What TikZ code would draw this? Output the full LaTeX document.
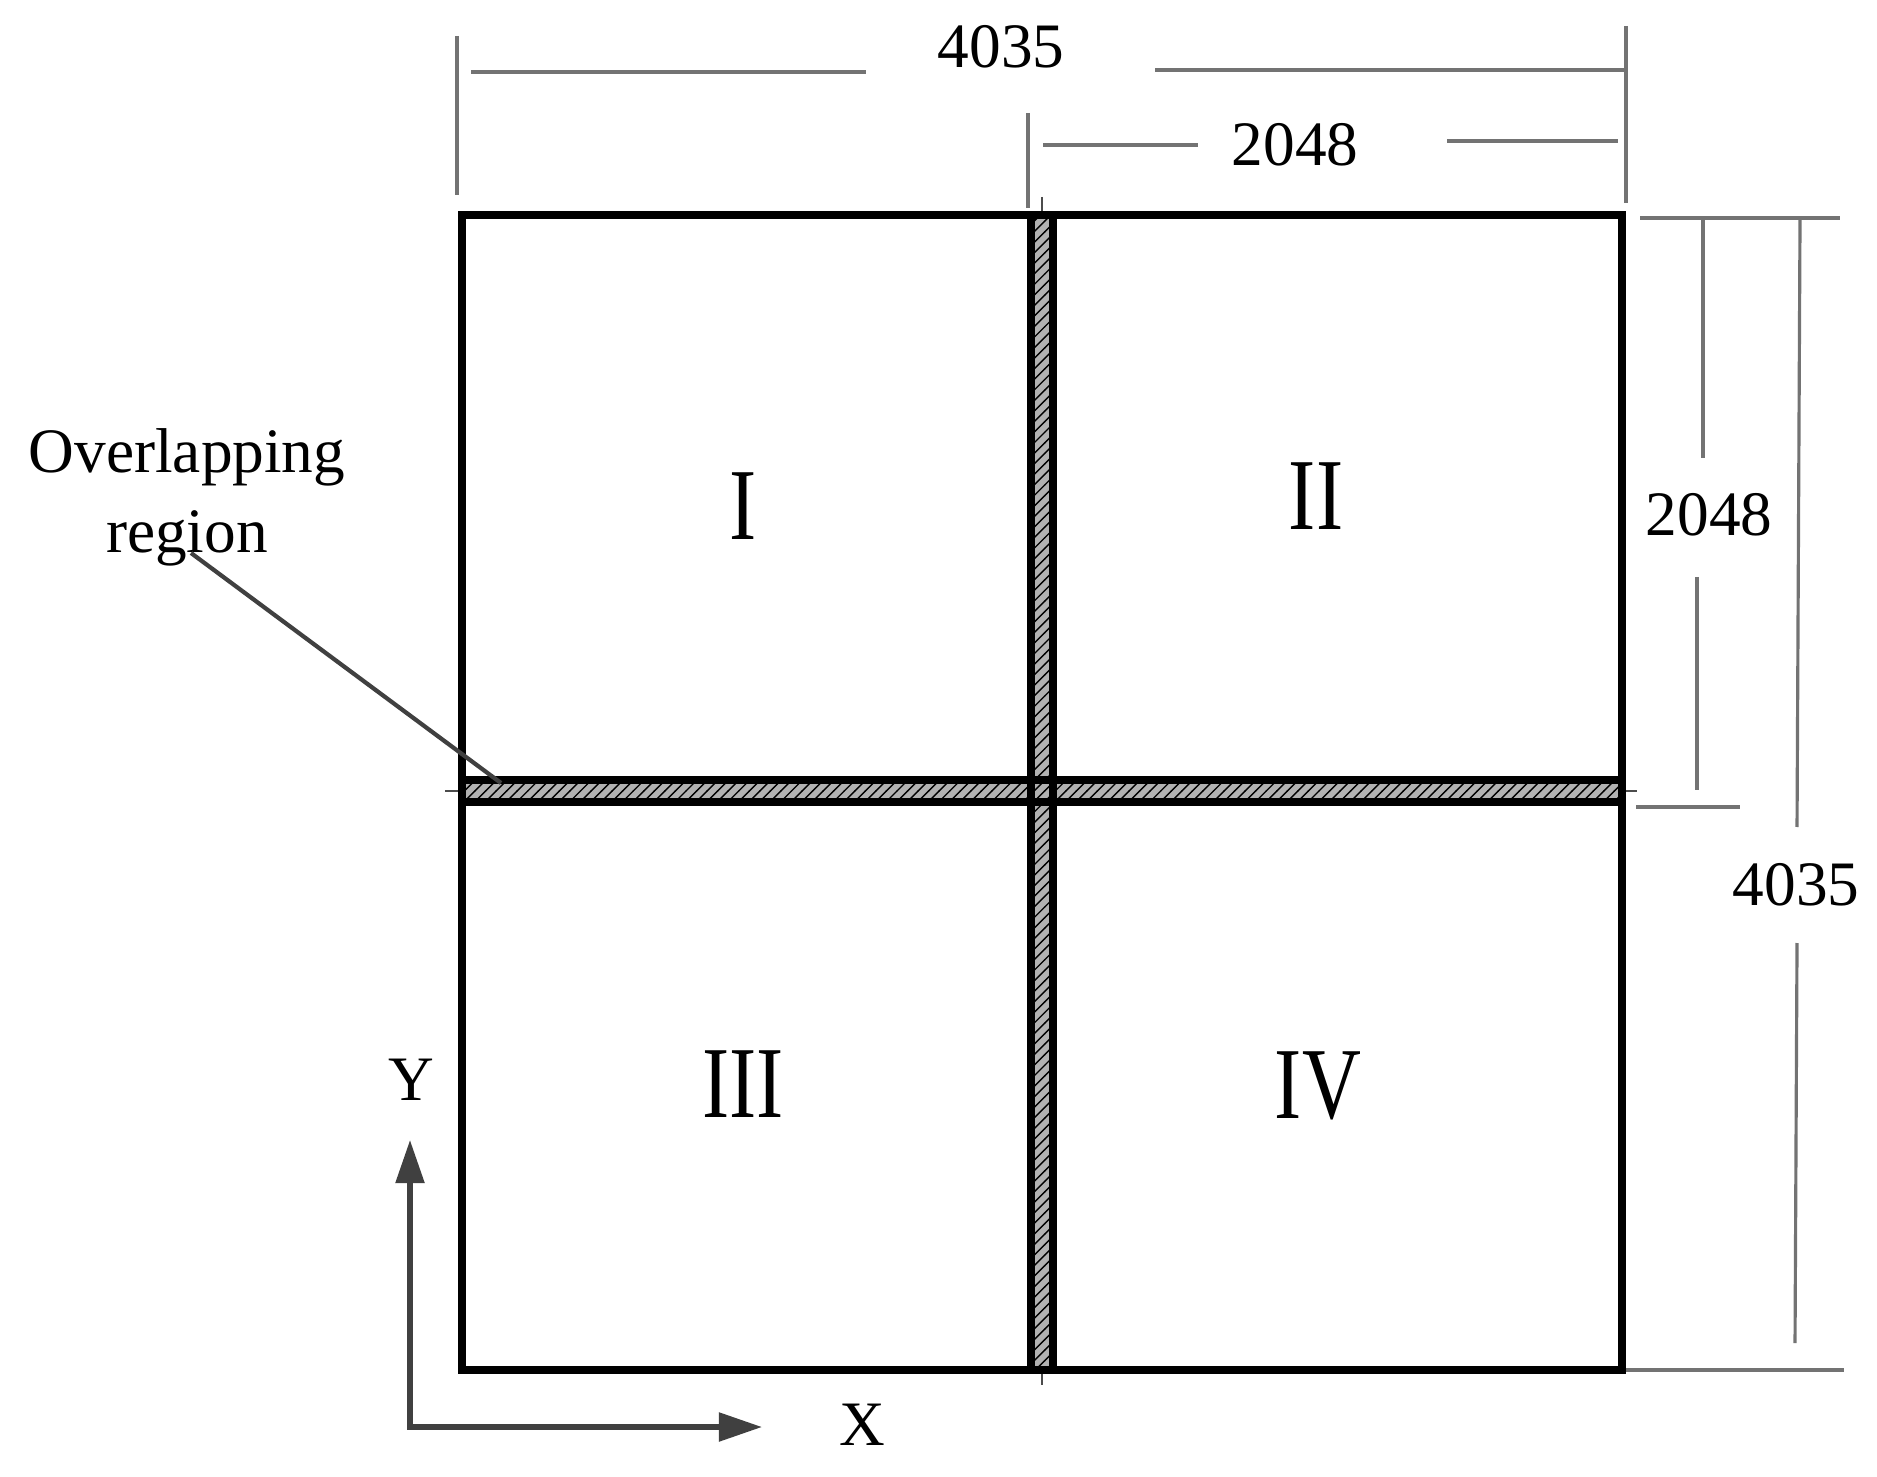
\documentclass[tikz,border=0pt]{standalone}
\usepackage{fontspec}
\setmainfont{Liberation Serif}
\usetikzlibrary{arrows.meta,patterns}
\tikzset{
    dimline/.style={draw=black!55, line width=0.9pt},
    axisline/.style={draw=black!75, line width=1.5pt, {Triangle[length=4.3mm,width=2.8mm]}-{Triangle[length=4.3mm,width=2.8mm]}},
    lbl/.style={inner sep=0pt, font=\fontsize{18}{22.8}\selectfont},
    quad/.style={inner sep=0pt, font=\fontsize{29}{30}\selectfont, xscale=0.8, transform shape},
    stripfill/.style={preaction={fill=black!30}, pattern=north east lines, pattern color=black},
}
\begin{document}
\begin{tikzpicture}[x=0.01cm, y=-0.01cm]
    \useasboundingbox (0,0) rectangle (1877,1477);
    % centre lines of the overlapping strips
    \draw[black!70, line width=0.6pt] (1042,197) -- (1042,1385);
    \draw[black!70, line width=0.6pt] (445,791) -- (1637,791);
    \foreach \a/\b in {{462,780}/{1622,802}, {1031,215}/{1053,1370}}
        \fill[stripfill] (\a) rectangle (\b);
    \foreach \a/\b in {{462,780}/{1622,802}, {1031,215}/{1053,1370}}
        \draw[line width=2.2pt] (\a) rectangle (\b);
    \draw[line width=2.4pt] (462,215) rectangle (1622,1370);
    \foreach \t/\x/\y [count=\i] in {I/743/506, II/1316/496, III/743/1084, IV/1318/1086}
        \node[quad] (q\i) at (\x,\y) {\t};
    % dimensions on top
    \node[lbl] (wtot) at (1001,47) {4035};
    \draw[dimline] (457,36) -- (457,195);
    \draw[dimline] (1626,26) -- (1626,203);
    \draw[dimline] (471,72) -- (866,72);
    \draw[dimline] (1155,70) -- (1626,70);
    \node[lbl] (wtop) at (1295,145) {2048};
    \draw[dimline] (1028,113) -- (1028,208);
    \draw[dimline] (1043,145) -- (1198,145);
    \draw[dimline] (1447,141) -- (1618,141);
    % dimensions on the right
    \draw[dimline] (1640,218) -- (1840,218);
    \draw[dimline] (1636,807) -- (1740,807);
    \draw[dimline] (1626,1370) -- (1844,1370);
    \node[lbl] (hup) at (1709,515) {2048};
    \draw[dimline] (1703,218) -- (1703,458);
    \draw[dimline] (1697,577) -- (1697,790);
    \node[lbl] (htot) at (1796,885) {4035};
    \draw[dimline] (1800,218) -- (1797,827);
    \draw[dimline] (1797,943) -- (1795,1343);
    % overlapping region label
    \node[lbl, align=center, anchor=north] (ovl) at (187,428) {Overlapping\\region};
    \coordinate (ovlfoot) at (191,553);
    \coordinate (ovltip) at (501,783);
    \draw[black!75, line width=1.2pt] (ovlfoot) -- (ovltip);
    % axes
    \coordinate (orig) at (410,1427);
    \draw[axisline] (410,1140) -- (orig) -- (762,1427);
    \node[lbl] (ylab) at (411,1080) {Y};
    \node[lbl] (xlab) at (862,1425) {X};
\end{tikzpicture}
\end{document}
